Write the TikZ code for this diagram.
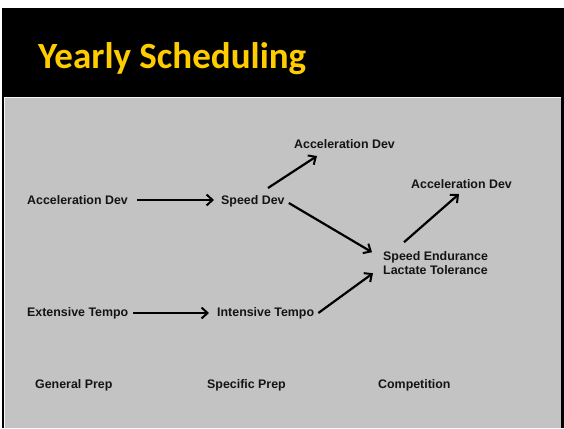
\documentclass[tikz,border=0pt]{standalone}
\usepackage{fontspec}
\setmainfont{Liberation Sans}
\newfontfamily\titlefont{Carlito}
\usetikzlibrary{calc,arrows.meta}
\definecolor{slidegray}{RGB}{195,195,195}
\definecolor{titleyellow}{RGB}{255,204,0}
\definecolor{labelink}{RGB}{20,20,20}
\begin{document}
\begin{tikzpicture}[x=1pt,y=-1pt,
  lbl/.style={inner sep=0pt,text=labelink,font=\fontsize{12.4}{14}\selectfont\bfseries},
  flow/.style={line width=2.2pt,-{Straight Barb[length=6pt,width=11pt,line width=2pt]}}]
  \useasboundingbox (0,0) rectangle (564,428);
  % slide frame and banner
  \fill[white] (0,0) rectangle (564,428);
  \fill[black] (2,8) rectangle (564,428);
  \fill[slidegray] (5,98) rectangle (561,428);
  \draw[white!85!slidegray,line width=0.8pt] (4.4,428) -- (4.4,97.6) -- (561,97.6);
  \node[anchor=base west,inner sep=0pt,text=titleyellow,font=\titlefont\fontsize{37}{42}\selectfont\bfseries]
    (title) at (38,68.5) {Yearly Scheduling};
  % training labels
  \node[lbl,anchor=base west] (accA) at (27,204) {Acceleration Dev};
  \node[lbl,anchor=base west] (speed) at (221,204) {Speed Dev};
  \node[lbl,anchor=base west] (accB) at (294,148) {Acceleration Dev};
  \node[lbl,anchor=base west] (accC) at (411,188) {Acceleration Dev};
  \node[lbl,anchor=north west,align=left] (endur) at (383,251.2) {Speed Endurance\\Lactate Tolerance};
  \node[lbl,anchor=base west] (ext) at (27,316) {Extensive Tempo};
  \node[lbl,anchor=base west] (int) at (217,316) {Intensive Tempo};
  % phases
  \node[lbl,anchor=base west] (gen) at (35,388) {General Prep};
  \node[lbl,anchor=base west] (spec) at (207,388) {Specific Prep};
  \node[lbl,anchor=base west] (comp) at (378,388) {Competition};
  % progressions
  \draw[flow] ($(accA.base east)+(9,-4)$) -- ($(speed.base west)+(-7,-4)$);
  \draw[flow] ($(speed.base west)+(47,-16)$) -- ($(accB.base west)+(23,8)$);
  \draw[flow] ($(speed.base east)+(4,-1)$) -- ($(endur.north west)+(-11,1)$);
  \draw[flow] ($(endur.north west)+(21,-9)$) -- ($(accC.base west)+(48,6)$);
  \draw[flow] ($(ext.base east)+(5,-3)$) -- ($(int.base west)+(-8,-3)$);
  \draw[flow] ($(int.base east)+(4,-3)$) -- ($(endur.north west)+(-10,22)$);
\end{tikzpicture}
\end{document}
